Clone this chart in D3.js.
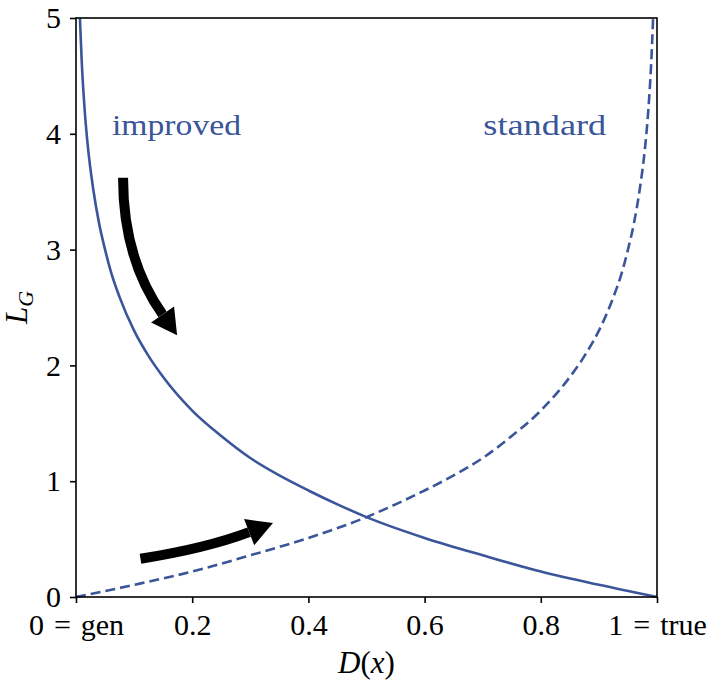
<!DOCTYPE html>
<html>
<head>
<meta charset="utf-8">
<script src="https://cdn.jsdelivr.net/npm/d3@7"></script>
<style>
  body { margin: 0; background: #fff; }
  text { font-family: "Liberation Serif", "DejaVu Serif", serif; fill: #000; }
</style>
</head>
<body>
<div id="chart"></div>
<script>
const W = 724, H = 690;
const margin = {top: 18, right: 67, bottom: 93, left: 76};
const width = W - margin.left - margin.right;
const height = H - margin.top - margin.bottom;

// values
const improvedX = [0.0067, 0.01, 0.015, 0.02, 0.03, 0.04, 0.05, 0.06, 0.075, 0.1, 0.125, 0.15, 0.2, 0.25, 0.3, 0.35, 0.4, 0.45, 0.5, 0.6, 0.7, 0.8, 0.9, 1.0];
const improvedY = [5.0, 4.61, 4.2, 3.91, 3.51, 3.22, 3.0, 2.81, 2.59, 2.3, 2.08, 1.9, 1.61, 1.39, 1.2, 1.05, 0.92, 0.8, 0.69, 0.51, 0.36, 0.22, 0.105, 0.0];
const standardX = [0.0, 0.1, 0.2, 0.3, 0.4, 0.5, 0.55, 0.6, 0.65, 0.7, 0.75, 0.8, 0.85, 0.875, 0.9, 0.925, 0.94, 0.95, 0.96, 0.97, 0.98, 0.985, 0.99, 0.9933];
const standardY = [0.0, 0.105, 0.22, 0.36, 0.51, 0.69, 0.8, 0.92, 1.05, 1.2, 1.39, 1.61, 1.9, 2.08, 2.3, 2.59, 2.81, 3.0, 3.22, 3.51, 3.91, 4.2, 4.61, 5.0];

const xTicks = [0, 0.2, 0.4, 0.6, 0.8, 1];
const xTickLabels = ["0\u2004=\u2004gen", "0.2", "0.4", "0.6", "0.8", "1\u2004=\u2004true"];
const yTicks = [0, 1, 2, 3, 4, 5];

// arrow annotations in data units: start, control, head base, tip
const arrowDown = [[0.081, 3.62], [0.081, 2.92], [0.149, 2.44], [0.174, 2.26]];
const arrowUp = [[0.111, 0.33], [0.224, 0.42], [0.298, 0.56], [0.339, 0.64]];

const color = "#3a5599";

const svg = d3.select("#chart").append("svg")
  .attr("width", W)
  .attr("height", H);

const g = svg.append("g")
  .attr("transform", `translate(${margin.left}, ${margin.top})`);

const x = d3.scaleLinear().domain([0, 1]).range([0, width]);
const y = d3.scaleLinear().domain([0, 5]).range([height, 0]);

const line = d3.line()
  .x(d => x(d[0]))
  .y(d => y(d[1]))
  .curve(d3.curveMonotoneX);

g.append("path")
  .datum(d3.zip(improvedX, improvedY))
  .attr("d", line)
  .attr("fill", "none")
  .attr("stroke", color)
  .attr("stroke-width", 2.6);

g.append("path")
  .datum(d3.zip(standardX, standardY))
  .attr("d", line)
  .attr("fill", "none")
  .attr("stroke", color)
  .attr("stroke-width", 2.6)
  .attr("stroke-dasharray", "10,5");

// arrows
function drawArrow(pts) {
  const p = pts.map(d => [x(d[0]), y(d[1])]);
  const [s, c, b, t] = p;
  g.append("path")
    .attr("d", `M${s[0]},${s[1]} Q${c[0]},${c[1]} ${b[0]},${b[1]}`)
    .attr("fill", "none")
    .attr("stroke", "#000")
    .attr("stroke-width", 10);
  const dx = t[0] - b[0], dy = t[1] - b[1];
  const len = Math.hypot(dx, dy);
  const nx = -dy / len, ny = dx / len;
  const hw = 14;
  g.append("path")
    .attr("d", `M${b[0] + nx * hw},${b[1] + ny * hw} L${t[0]},${t[1]} L${b[0] - nx * hw},${b[1] - ny * hw} Z`)
    .attr("fill", "#000");
}
drawArrow(arrowDown);
drawArrow(arrowUp);

// curve labels
g.append("text")
  .attr("x", x(0.062))
  .attr("y", y(4.0) + 1)
  .attr("font-size", 30)
  .attr("textLength", 129)
  .attr("lengthAdjust", "spacingAndGlyphs")
  .style("fill", color)
  .text("improved");

g.append("text")
  .attr("x", x(0.701))
  .attr("y", y(4.0) + 1)
  .attr("font-size", 30)
  .attr("textLength", 123)
  .attr("lengthAdjust", "spacingAndGlyphs")
  .style("fill", color)
  .text("standard");

// frame
g.append("rect")
  .attr("width", width)
  .attr("height", height)
  .attr("fill", "none")
  .attr("stroke", "#000")
  .attr("stroke-width", 1.6);

// axes
const xAxis = g.append("g")
  .attr("transform", `translate(0, ${height})`)
  .call(d3.axisBottom(x).tickValues(xTicks).tickSize(6)
    .tickFormat((d, i) => xTickLabels[i]));
const yAxis = g.append("g")
  .call(d3.axisLeft(y).tickValues(yTicks).tickSize(6).tickPadding(9)
    .tickFormat(d3.format("d")));

[xAxis, yAxis].forEach(a => {
  a.select(".domain").remove();
  a.selectAll(".tick line").attr("stroke", "#000").attr("stroke-width", 1.6);
  a.selectAll(".tick text")
    .attr("font-size", 30)
    .attr("font-family", "'Liberation Serif', serif")
    .attr("fill", "#000");
});
xAxis.selectAll(".tick text").attr("y", 38).attr("dy", null);
yAxis.selectAll(".tick text").attr("dy", "0.32em");

// axis titles
const xt = svg.append("text")
  .attr("x", margin.left + width / 2)
  .attr("y", 673)
  .attr("text-anchor", "middle")
  .attr("font-size", 31);
xt.append("tspan").attr("font-style", "italic").text("D");
xt.append("tspan").text("(");
xt.append("tspan").attr("font-style", "italic").text("x");
xt.append("tspan").text(")");

const yt = svg.append("text")
  .attr("transform", `translate(27, ${margin.top + height / 2}) rotate(-90)`)
  .attr("text-anchor", "middle")
  .attr("font-size", 31);
yt.append("tspan").attr("font-style", "italic").text("L");
yt.append("tspan").attr("font-style", "italic").attr("font-size", 22).attr("dy", 6).text("G");
</script>
</body>
</html>
